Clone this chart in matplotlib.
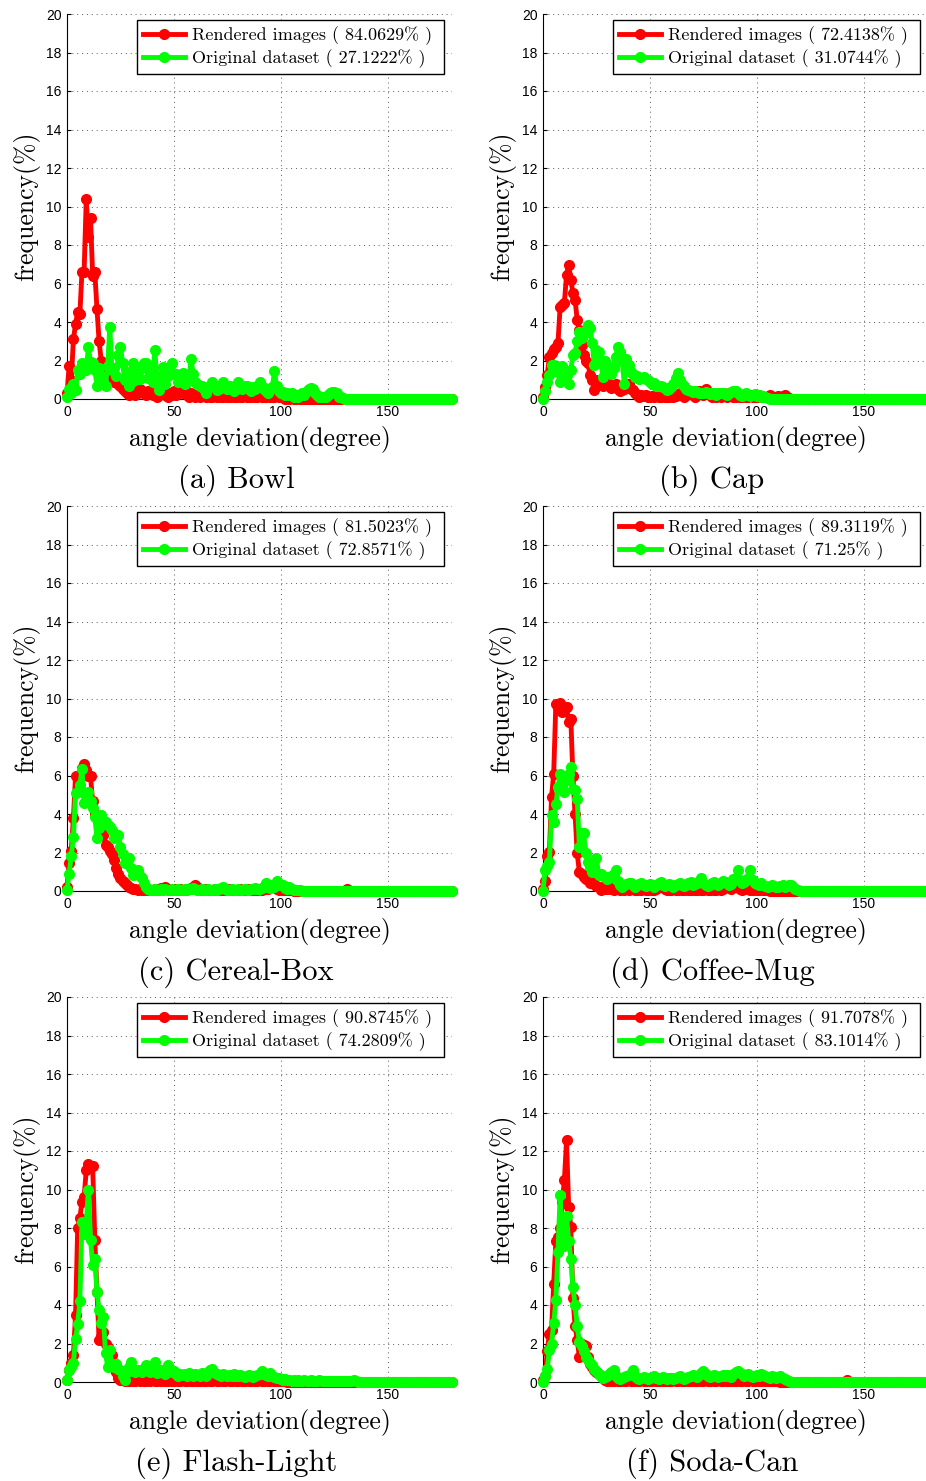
import numpy as np
import matplotlib.pyplot as plt

# frequency (%) per 1-degree bin, angle 0..180
bowl_red = [
    0.3, 1.7, 1.0, 3.1, 3.9, 4.5, 4.4, 6.6, 6.6, 10.4, 8.4, 9.4, 6.4, 6.6, 4.7, 3.0, 2.0, 1.8, 1.5, 1.7,
    1.3, 1.0, 0.9, 1.0, 0.8, 0.7, 0.5, 0.4, 0.3, 0.2, 0.3, 0.4, 0.2, 0.3, 0.5, 0.4, 0.3, 0.2, 0.4, 0.3,
    0.2, 0.3, 0.1, 0.2, 0.4, 0.3, 0.2, 0.1, 0.3, 0.2, 0.4, 0.2, 0.5, 0.4, 0.3, 0.5, 0.2, 0.1, 0.3, 0.2,
    0.1, 0.2, 0.1, 0.2, 0.3, 0.1, 0.2, 0.1, 0.1, 0.2, 0.1, 0.2, 0.1, 0.1, 0.2, 0.1, 0.1, 0.2, 0.1, 0.1,
    0.2, 0.1, 0.1, 0.2, 0.1, 0.1, 0.1, 0.2, 0.1, 0.1, 0.2, 0.1, 0.1, 0.1, 0.2, 0.1, 0.1, 0.1, 0.2, 0.1,
    0.1, 0.1, 0, 0.1, 0, 0.1, 0, 0, 0.1, 0, 0, 0, 0, 0, 0, 0, 0, 0, 0, 0,
    0, 0, 0, 0, 0, 0, 0, 0, 0, 0, 0, 0, 0, 0, 0, 0, 0, 0, 0, 0,
    0, 0, 0, 0, 0, 0, 0, 0, 0, 0, 0, 0, 0, 0, 0, 0, 0, 0, 0, 0,
    0, 0, 0, 0, 0, 0, 0, 0, 0, 0, 0, 0, 0, 0, 0, 0, 0, 0, 0, 0,
    0]
bowl_green = [
    0.1, 0.5, 0.3, 0.8, 0.45, 1.5, 1.3, 1.85, 1.6, 1.5, 2.7, 1.9, 1.85, 1.5, 0.7, 1.6, 1.2, 0.9, 0.7, 1.7,
    3.75, 1.5, 1.6, 1.2, 2.3, 2.7, 1.85, 1.0, 1.4, 0.7, 1.2, 1.85, 1.0, 1.4, 1.05, 1.6, 1.85, 1.85, 1.1, 1.4,
    0.9, 2.55, 1.2, 0.45, 1.0, 1.65, 0.8, 1.2, 1.5, 1.85, 1.3, 1.3, 0.9, 1.1, 1.35, 0.8, 1.2, 1.0, 2.1, 1.3,
    0.9, 0.8, 0.7, 0.65, 0.5, 0.3, 0.6, 0.7, 0.9, 0.6, 0.45, 0.5, 0.7, 0.9, 0.6, 0.5, 0.65, 0.6, 0.4, 0.5,
    0.9, 0.6, 0.5, 0.7, 0.7, 0.5, 0.4, 0.6, 0.5, 0.7, 0.9, 0.65, 0.5, 0.4, 0.3, 0.5, 0.6, 1.45, 0.65, 0.4,
    0.3, 0.35, 0.2, 0.3, 0.2, 0.3, 0.1, 0.2, 0.1, 0.2, 0.3, 0.2, 0.4, 0.5, 0.55, 0.5, 0.3, 0.2, 0.1, 0.1,
    0.1, 0.1, 0.2, 0.3, 0.35, 0.35, 0.3, 0.1, 0.1, 0.05, 0, 0, 0, 0, 0, 0, 0, 0, 0, 0,
    0, 0, 0, 0, 0, 0, 0, 0, 0, 0, 0, 0, 0, 0, 0, 0, 0, 0, 0, 0,
    0, 0, 0, 0, 0, 0, 0, 0, 0, 0, 0, 0, 0, 0, 0, 0, 0, 0, 0, 0,
    0]

cap_red = [
    0.1, 0.6, 1.25, 2.2, 2.4, 2.6, 2.7, 2.9, 4.8, 4.9, 5.0, 6.45, 6.95, 6.2, 5.5, 5.15, 4.1, 3.6, 2.8, 2.3,
    2.0, 1.85, 1.25, 1.0, 0.45, 1.0, 0.8, 0.9, 0.65, 1.15, 0.9, 0.8, 0.55, 0.6, 0.8, 0.5, 0.4, 0.45, 0.5, 0.6,
    0.8, 0.5, 0.45, 0.3, 0.2, 0.1, 0.2, 0.15, 0.2, 0.1, 0.1, 0.15, 0.1, 0.2, 0.1, 0.1, 0.15, 0.1, 0.1, 0.1,
    0.2, 0.1, 0.15, 0.2, 0.3, 0.2, 0.1, 0.2, 0.35, 0.3, 0.2, 0.1, 0.3, 0.4, 0.3, 0.2, 0.5, 0.3, 0.2, 0.1,
    0.2, 0.1, 0.2, 0.1, 0.3, 0.2, 0.1, 0.3, 0.2, 0.1, 0.1, 0.2, 0.1, 0.1, 0.2, 0.1, 0.1, 0.2, 0.1, 0.1,
    0.1, 0.2, 0.1, 0.1, 0.1, 0.1, 0.2, 0.1, 0.1, 0.1, 0.15, 0.1, 0.15, 0.2, 0.1, 0.05, 0, 0, 0, 0,
    0, 0, 0, 0, 0, 0, 0, 0, 0, 0, 0, 0, 0, 0, 0, 0, 0, 0, 0, 0,
    0, 0, 0, 0, 0, 0, 0, 0, 0, 0, 0, 0, 0, 0, 0, 0, 0, 0, 0, 0,
    0, 0, 0, 0, 0, 0, 0, 0, 0, 0, 0, 0, 0, 0, 0, 0, 0, 0, 0, 0,
    0]
cap_green = [
    0.0, 0.4, 0.9, 1.25, 1.75, 1.75, 1.7, 1.4, 0.9, 1.7, 1.3, 1.25, 0.8, 1.5, 2.3, 2.4, 3.0, 3.5, 3.15, 3.4,
    3.6, 3.85, 3.7, 2.9, 1.75, 2.55, 2.45, 1.95, 1.15, 2.0, 1.7, 1.5, 1.3, 1.6, 2.2, 2.7, 2.45, 2.0, 0.8, 2.1,
    1.75, 1.4, 1.3, 1.15, 1.2, 1.05, 1.1, 1.15, 1.05, 1.0, 0.9, 0.8, 0.85, 0.7, 0.7, 0.7, 0.6, 0.55, 0.45, 0.5,
    0.6, 0.8, 1.1, 1.35, 1.0, 0.8, 0.65, 0.5, 0.45, 0.4, 0.35, 0.4, 0.35, 0.3, 0.3, 0.3, 0.35, 0.3, 0.25, 0.3,
    0.3, 0.2, 0.3, 0.3, 0.3, 0.25, 0.2, 0.3, 0.35, 0.4, 0.4, 0.3, 0.2, 0.15, 0.2, 0.3, 0.2, 0.15, 0.2, 0.25,
    0.15, 0.2, 0.1, 0.15, 0.1, 0.05, 0, 0, 0, 0, 0, 0, 0, 0, 0, 0, 0, 0, 0, 0,
    0, 0, 0, 0, 0, 0, 0, 0, 0, 0, 0, 0, 0, 0, 0, 0, 0, 0, 0, 0,
    0, 0, 0, 0, 0, 0, 0, 0, 0, 0, 0, 0, 0, 0, 0, 0, 0, 0, 0, 0,
    0, 0, 0, 0, 0, 0, 0, 0, 0, 0, 0, 0, 0, 0, 0, 0, 0, 0, 0, 0,
    0]

cereal_red = [
    0.2, 1.45, 2.1, 3.8, 6.0, 5.9, 5.95, 6.4, 6.6, 6.3, 6.0, 5.95, 4.65, 4.0, 3.8, 3.5, 3.35, 2.9, 2.4, 2.3,
    2.1, 1.9, 1.6, 1.2, 0.9, 0.65, 0.5, 0.4, 0.3, 0.2, 0.15, 0.1, 0.1, 0.05, 0.1, 0.05, 0.05, 0.1, 0.05, 0.05,
    0.05, 0.1, 0.05, 0.1, 0.15, 0.1, 0.2, 0.1, 0.05, 0.05, 0.1, 0.05, 0.05, 0.1, 0.05, 0.05, 0.1, 0.1, 0.15, 0.2,
    0.3, 0.2, 0.1, 0.05, 0.05, 0.1, 0.05, 0.05, 0.05, 0.1, 0.05, 0.05, 0.1, 0.05, 0.05, 0.05, 0.1, 0.05, 0.05, 0.05,
    0.05, 0.1, 0.05, 0.05, 0.05, 0.1, 0.05, 0.05, 0.1, 0.05, 0.1, 0.05, 0.1, 0.2, 0.1, 0.2, 0.3, 0.2, 0.1, 0.05,
    0.1, 0.05, 0.05, 0.1, 0.05, 0.05, 0, 0, 0, 0, 0, 0, 0, 0, 0, 0, 0, 0, 0, 0,
    0, 0, 0, 0, 0, 0, 0, 0, 0, 0, 0, 0.1, 0, 0, 0, 0, 0, 0, 0, 0,
    0, 0, 0, 0, 0, 0, 0, 0, 0, 0, 0, 0, 0, 0, 0, 0, 0, 0, 0, 0,
    0, 0, 0, 0, 0, 0, 0, 0, 0, 0, 0, 0, 0, 0, 0, 0, 0, 0, 0, 0,
    0]
cereal_green = [
    0.05, 0.9, 1.8, 2.8, 5.1, 5.15, 5.5, 6.35, 4.55, 5.0, 5.15, 4.65, 4.3, 3.85, 2.75, 3.25, 3.95, 3.7, 3.6, 3.45,
    3.3, 3.15, 2.75, 2.9, 2.9, 2.3, 1.9, 1.45, 1.6, 1.7, 1.2, 0.85, 1.0, 1.1, 0.8, 0.65, 0.4, 0.2, 0.1, 0.05,
    0.05, 0.1, 0.05, 0.05, 0.1, 0.05, 0.1, 0.05, 0.05, 0.1, 0.05, 0.05, 0.1, 0.05, 0.05, 0.1, 0.05, 0.1, 0.1, 0.15,
    0.1, 0.05, 0.05, 0.1, 0.05, 0.05, 0.1, 0.05, 0.05, 0.1, 0.05, 0.1, 0.15, 0.2, 0.1, 0.05, 0.05, 0.1, 0.05, 0.05,
    0.1, 0.05, 0.05, 0.1, 0.05, 0.05, 0.1, 0.1, 0.15, 0.1, 0.1, 0.15, 0.2, 0.4, 0.2, 0.15, 0.3, 0.2, 0.5, 0.3,
    0.3, 0.3, 0.15, 0.1, 0.2, 0.1, 0.05, 0.05, 0.05, 0.05, 0, 0, 0, 0, 0, 0, 0, 0, 0, 0,
    0, 0, 0, 0, 0, 0, 0, 0, 0, 0, 0, 0, 0, 0, 0, 0, 0, 0, 0, 0,
    0, 0, 0, 0, 0, 0, 0, 0, 0, 0, 0, 0, 0, 0, 0, 0, 0, 0, 0, 0,
    0, 0, 0, 0, 0, 0, 0, 0, 0, 0, 0, 0, 0, 0, 0, 0, 0, 0, 0, 0,
    0]

coffee_red = [
    0.1, 0.5, 1.8, 2.05, 4.9, 6.1, 9.7, 9.55, 9.75, 9.3, 9.4, 9.55, 8.8, 8.95, 5.95, 4.0, 1.95, 1.0, 0.9, 0.75,
    0.6, 0.55, 0.4, 0.45, 0.35, 0.25, 0.2, 0.05, 0.2, 0.1, 0.1, 0.2, 0.1, 0.05, 0.1, 0.1, 0.05, 0.1, 0.05, 0.1,
    0.05, 0.1, 0.1, 0.05, 0.05, 0.1, 0.05, 0.1, 0.05, 0.05, 0.1, 0.05, 0.05, 0.1, 0.2, 0.3, 0.2, 0.1, 0.05, 0.05,
    0.05, 0.1, 0.05, 0.05, 0.1, 0.05, 0.05, 0.1, 0.05, 0.05, 0.1, 0.05, 0.05, 0.1, 0.05, 0.05, 0.1, 0.05, 0.05, 0.1,
    0.05, 0.05, 0.1, 0.05, 0.1, 0.2, 0.3, 0.2, 0.1, 0.2, 0.3, 0.2, 0.1, 0.05, 0.1, 0.2, 0.1, 0.05, 0.05, 0.1,
    0.05, 0.05, 0.1, 0.05, 0.05, 0.05, 0, 0, 0, 0, 0, 0, 0, 0, 0, 0, 0, 0, 0, 0,
    0, 0, 0, 0, 0, 0, 0, 0, 0, 0, 0, 0, 0, 0, 0, 0, 0, 0, 0, 0,
    0, 0, 0, 0, 0, 0, 0, 0, 0, 0, 0, 0, 0, 0, 0, 0, 0, 0, 0, 0,
    0, 0, 0, 0, 0, 0, 0, 0, 0, 0, 0, 0, 0, 0, 0, 0, 0, 0, 0, 0,
    0]
coffee_green = [
    0.0, 1.1, 1.3, 1.5, 3.95, 3.6, 4.5, 5.4, 6.1, 5.4, 5.15, 5.75, 6.1, 6.45, 5.3, 5.25, 4.8, 2.3, 3.0, 3.0,
    1.95, 1.5, 1.25, 1.0, 1.2, 1.7, 0.85, 0.9, 0.8, 0.75, 0.6, 0.7, 0.8, 0.9, 1.1, 0.5, 0.3, 0.2, 0.3, 0.35,
    0.4, 0.4, 0.3, 0.2, 0.3, 0.35, 0.4, 0.3, 0.25, 0.3, 0.35, 0.3, 0.2, 0.3, 0.4, 0.45, 0.3, 0.25, 0.3, 0.35,
    0.3, 0.2, 0.3, 0.35, 0.4, 0.3, 0.25, 0.3, 0.4, 0.45, 0.3, 0.35, 0.4, 0.5, 0.65, 0.4, 0.3, 0.25, 0.3, 0.4,
    0.45, 0.35, 0.3, 0.4, 0.5, 0.45, 0.4, 0.3, 0.35, 0.6, 0.7, 1.1, 0.55, 0.4, 0.45, 0.55, 0.7, 1.1, 0.55, 0.4,
    0.35, 0.3, 0.4, 0.3, 0.25, 0.2, 0.25, 0.3, 0.25, 0.2, 0.2, 0.25, 0.3, 0.2, 0.25, 0.3, 0.3, 0.2, 0.1, 0.05,
    0, 0, 0, 0, 0, 0, 0, 0, 0, 0, 0, 0, 0, 0, 0, 0, 0, 0, 0, 0,
    0, 0, 0, 0, 0, 0, 0, 0, 0, 0, 0, 0, 0, 0, 0, 0, 0, 0, 0, 0,
    0, 0, 0, 0, 0, 0, 0, 0, 0, 0, 0, 0, 0, 0, 0, 0, 0, 0, 0, 0,
    0]

flash_red = [
    0.1, 0.6, 1.0, 1.4, 3.5, 8.0, 8.5, 9.35, 9.6, 11.0, 11.35, 11.2, 11.2, 7.4, 4.7, 2.2, 2.4, 2.6, 2.0, 1.8,
    1.6, 1.4, 1.0, 0.5, 0.2, 0.1, 0.1, 0.05, 0.1, 0.05, 0.1, 0.05, 0.05, 0.1, 0.05, 0.1, 0.05, 0.05, 0.1, 0.05,
    0.1, 0.05, 0.05, 0.1, 0.05, 0.1, 0.05, 0.05, 0.1, 0.05, 0.05, 0.1, 0.05, 0.05, 0.1, 0.05, 0.05, 0.1, 0.05, 0.05,
    0.1, 0.05, 0.05, 0.1, 0.05, 0.05, 0.1, 0.05, 0.05, 0.1, 0.05, 0.05, 0.1, 0.05, 0.05, 0.1, 0.05, 0.05, 0.1, 0.05,
    0.05, 0.1, 0.05, 0.05, 0.1, 0.05, 0.05, 0.1, 0.05, 0.05, 0.1, 0.05, 0.05, 0.1, 0.05, 0.05, 0.1, 0.05, 0.05, 0.05,
    0.05, 0.05, 0.05, 0, 0, 0, 0, 0, 0, 0, 0, 0, 0, 0, 0, 0, 0, 0, 0, 0,
    0, 0, 0, 0, 0, 0, 0, 0, 0, 0, 0, 0, 0, 0, 0, 0, 0, 0, 0, 0,
    0, 0, 0, 0, 0, 0, 0, 0, 0, 0, 0, 0, 0, 0, 0, 0, 0, 0, 0, 0,
    0, 0, 0, 0, 0, 0, 0, 0, 0, 0, 0, 0, 0, 0, 0, 0, 0, 0, 0, 0,
    0]
flash_green = [
    0.1, 0.6, 0.8, 1.0, 2.25, 3.0, 4.2, 8.3, 7.7, 8.3, 10.0, 7.4, 6.1, 6.4, 4.7, 3.75, 3.05, 3.4, 1.5, 0.8,
    1.65, 0.95, 0.8, 0.95, 0.7, 0.6, 0.3, 0.1, 0.5, 0.8, 1.05, 0.7, 0.5, 0.6, 0.6, 0.5, 0.7, 0.9, 0.6, 0.5,
    0.8, 1.05, 0.45, 0.5, 0.6, 0.5, 0.4, 0.9, 0.7, 0.5, 0.55, 0.4, 0.3, 0.4, 0.35, 0.4, 0.3, 0.45, 0.35, 0.3,
    0.4, 0.35, 0.3, 0.45, 0.4, 0.3, 0.5, 0.6, 0.7, 0.45, 0.4, 0.35, 0.3, 0.4, 0.35, 0.3, 0.35, 0.3, 0.4, 0.3,
    0.3, 0.35, 0.3, 0.25, 0.3, 0.35, 0.3, 0.25, 0.3, 0.35, 0.4, 0.55, 0.4, 0.35, 0.3, 0.45, 0.3, 0.25, 0.2, 0.2,
    0.15, 0.1, 0.15, 0.1, 0.1, 0.05, 0.1, 0.05, 0.1, 0.05, 0.05, 0.1, 0.05, 0.05, 0.1, 0.05, 0.05, 0.05, 0.1, 0.05,
    0.05, 0.05, 0.05, 0.05, 0.05, 0.05, 0.05, 0.05, 0.05, 0.05, 0.05, 0.05, 0.05, 0.05, 0.1, 0.05, 0, 0, 0, 0,
    0, 0, 0, 0, 0, 0, 0, 0, 0, 0, 0, 0, 0, 0, 0, 0, 0, 0, 0, 0,
    0, 0, 0, 0, 0, 0, 0, 0, 0, 0, 0, 0, 0, 0, 0, 0, 0, 0, 0, 0,
    0]

soda_red = [
    0.1, 0.3, 1.6, 2.5, 2.7, 5.1, 7.3, 7.55, 8.0, 9.35, 10.5, 12.55, 9.1, 8.05, 4.35, 2.9, 2.2, 1.3, 2.0, 1.9,
    1.85, 1.3, 0.95, 0.8, 0.6, 0.5, 0.4, 0.3, 0.2, 0.1, 0.05, 0.1, 0.05, 0.05, 0.1, 0.05, 0.05, 0.1, 0.05, 0.05,
    0.1, 0.05, 0.05, 0.1, 0.05, 0.05, 0.1, 0.05, 0.05, 0.1, 0.05, 0.05, 0.1, 0.05, 0.05, 0.1, 0.05, 0.05, 0.1, 0.05,
    0.05, 0.1, 0.05, 0.05, 0.1, 0.05, 0.05, 0.1, 0.05, 0.05, 0.1, 0.05, 0.05, 0.1, 0.05, 0.05, 0.1, 0.05, 0.05, 0.1,
    0.05, 0.05, 0.1, 0.05, 0.05, 0.1, 0.05, 0.05, 0.1, 0.05, 0.05, 0.1, 0.05, 0.05, 0.1, 0.05, 0.05, 0.1, 0.05, 0.05,
    0.1, 0.05, 0.05, 0.1, 0.05, 0.05, 0.05, 0.05, 0.05, 0.05, 0.05, 0, 0, 0, 0, 0, 0, 0, 0, 0,
    0, 0, 0, 0, 0, 0, 0, 0, 0, 0, 0, 0, 0, 0, 0, 0, 0, 0, 0, 0,
    0, 0, 0.1, 0, 0, 0, 0, 0, 0, 0, 0, 0, 0, 0, 0, 0, 0, 0, 0, 0,
    0, 0, 0, 0, 0, 0, 0, 0, 0, 0, 0, 0, 0, 0, 0, 0, 0, 0, 0, 0,
    0]
soda_green = [
    0.0, 0.3, 0.7, 1.65, 2.0, 3.05, 4.25, 6.75, 9.7, 7.55, 7.05, 8.6, 7.35, 6.4, 4.95, 4.0, 2.9, 2.1, 1.85, 1.6,
    1.3, 1.15, 1.0, 0.9, 0.7, 0.55, 0.4, 0.3, 0.2, 0.25, 0.3, 0.4, 0.5, 0.6, 0.3, 0.2, 0.15, 0.2, 0.25, 0.3,
    0.35, 0.4, 0.6, 0.3, 0.2, 0.15, 0.2, 0.25, 0.2, 0.15, 0.2, 0.25, 0.3, 0.2, 0.15, 0.2, 0.25, 0.2, 0.15, 0.2,
    0.2, 0.15, 0.2, 0.25, 0.3, 0.2, 0.15, 0.2, 0.25, 0.3, 0.35, 0.3, 0.25, 0.35, 0.45, 0.55, 0.4, 0.3, 0.25, 0.3,
    0.35, 0.3, 0.25, 0.3, 0.35, 0.3, 0.35, 0.3, 0.25, 0.4, 0.5, 0.55, 0.45, 0.4, 0.3, 0.35, 0.4, 0.3, 0.25, 0.3,
    0.35, 0.3, 0.4, 0.35, 0.3, 0.25, 0.2, 0.3, 0.25, 0.2, 0.25, 0.3, 0.2, 0.15, 0.1, 0.05, 0, 0, 0, 0,
    0, 0, 0, 0, 0, 0, 0, 0, 0, 0, 0, 0, 0, 0, 0, 0, 0, 0, 0, 0,
    0, 0, 0, 0, 0, 0, 0, 0, 0, 0, 0, 0, 0, 0, 0, 0, 0, 0, 0, 0,
    0, 0, 0, 0, 0, 0, 0, 0, 0, 0, 0, 0, 0, 0, 0, 0, 0, 0, 0, 0,
    0]

captions = ['(a) Bowl', '(b) Cap', '(c) Cereal-Box', '(d) Coffee-Mug', '(e) Flash-Light', '(f) Soda-Can']
red_pct = ['84.0629', '72.4138', '81.5023', '89.3119', '90.8745', '91.7078']
green_pct = ['27.1222', '31.0744', '72.8571', '71.25', '74.2809', '83.1014']
red_series = [bowl_red, cap_red, cereal_red, coffee_red, flash_red, soda_red]
green_series = [bowl_green, cap_green, cereal_green, coffee_green, flash_green, soda_green]

W, H = 926, 1481
fig = plt.figure(figsize=(W / 100, H / 100), dpi=100)

serif = 'cmr10'
col_left = [67, 543]
row_bottom = [399, 891, 1382]
size = 385
cap_x = [236, 712]

for i in range(6):
    r, c = divmod(i, 2)
    ax = fig.add_axes([col_left[c] / W, 1 - row_bottom[r] / H, size / W, size / H])
    red = red_series[i]
    green = green_series[i]
    ax.plot(np.arange(len(red)), red, '-o', color=(1, 0, 0), lw=3.5, ms=7, clip_on=False, zorder=3,
            label='Rendered images ( %s%% ) ' % red_pct[i])
    ax.plot(np.arange(len(green)), green, '-o', color=(0, 1, 0), lw=3.5, ms=7, clip_on=False, zorder=4,
            label='Original dataset ( %s%% ) ' % green_pct[i])

    ax.set_xlim(0, 180)
    ax.set_ylim(0, 20)
    ax.set_xticks([0, 50, 100, 150])
    ax.set_yticks(np.arange(0, 21, 2))
    ax.grid(True, color='0.35', linestyle=(0, (1, 4)), lw=0.7)
    ax.set_axisbelow(True)
    ax.spines['top'].set_visible(False)
    ax.spines['right'].set_visible(False)
    ax.tick_params(direction='in', length=3, labelsize=10, pad=4)
    for lab in ax.get_xticklabels() + ax.get_yticklabels():
        lab.set_fontfamily('Liberation Sans')

    ax.text(0.5, -0.07, 'angle deviation(degree)', transform=ax.transAxes, ha='center', va='top',
            fontsize=18.5, family=serif)
    ax.text(-0.104, 0.5, 'frequency(%)', transform=ax.transAxes, ha='center', va='center',
            rotation=90, fontsize=18.5, family=serif)

    leg = ax.legend(loc='upper right', bbox_to_anchor=(0.98, 0.985), numpoints=1,
                    prop={'family': serif, 'size': 13}, fancybox=False, framealpha=1,
                    edgecolor='k', handlelength=2.3, borderpad=0.35, labelspacing=0.25,
                    handletextpad=0.4, borderaxespad=0)
    leg.get_frame().set_linewidth(1.0)

    fig.text(cap_x[c] / W, 1 - (row_bottom[r] + 81) / H, captions[i], ha='center', va='center',
             fontsize=22, family=serif)

fig.savefig('out.png', dpi=100)
